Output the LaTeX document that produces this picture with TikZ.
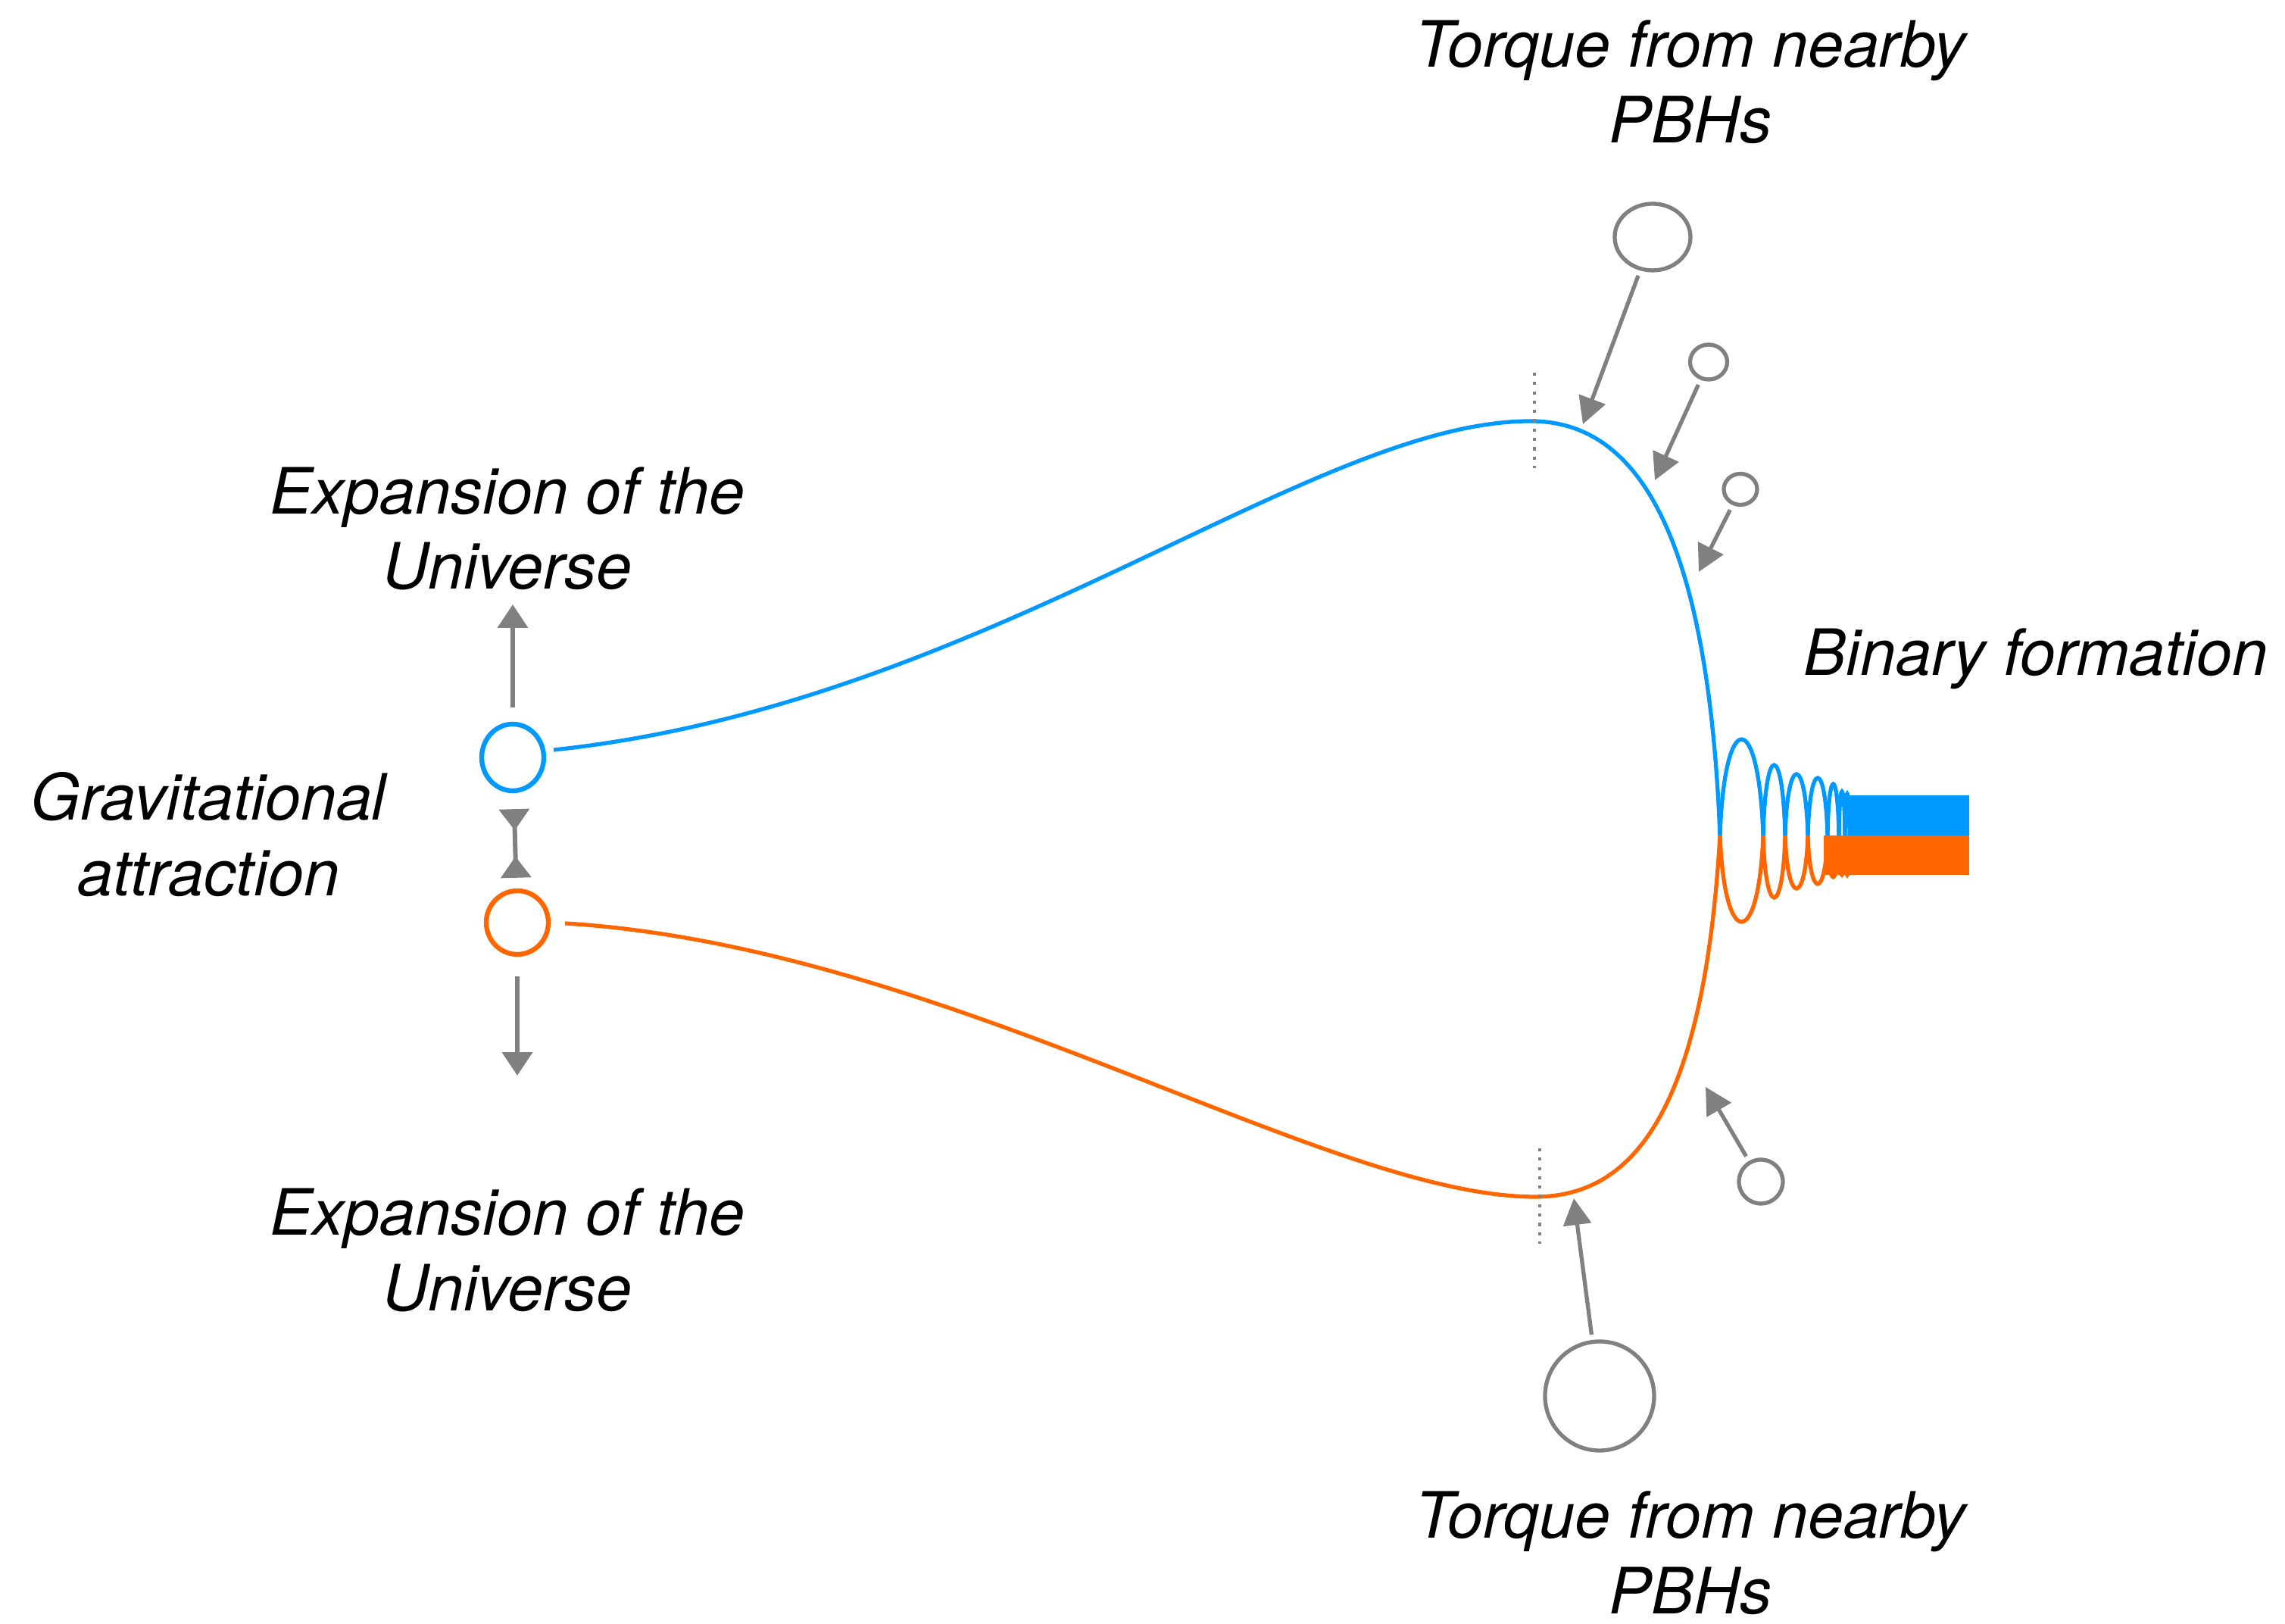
\documentclass[tikz,border=0pt]{standalone}
\usepackage{fontspec}
\setmainfont{TeX Gyre Heros}
\usetikzlibrary{arrows.meta, shapes.geometric}

\definecolor{pbhblue}{RGB}{0,153,255}
\definecolor{pbhorange}{RGB}{255,102,0}
\definecolor{pbhgray}{RGB}{128,128,128}

\begin{document}
\begin{tikzpicture}[x=0.5cm, y=-0.5cm,
    pbh/.style={draw=pbhgray, line width=0.75pt, ellipse, inner sep=0pt},
    pull/.style={pbhgray, line width=0.75pt, -{Triangle[length=5pt,width=5.2pt]}},
    pullwide/.style={pbhgray, line width=0.85pt, -{Triangle[length=4.4pt,width=5.6pt]}},
    orbit/.style={line width=0.75pt},
    lbl/.style={font=\fontsize{12}{14.2}\selectfont\itshape, align=center}]
\useasboundingbox (0,0) rectangle (30.17,21.44);

% labels
\node[lbl] (torqueTop) at (22.32,1.08) {Torque from nearby\\PBHs};
\node[lbl] (expTop) at (6.70,6.98) {Expansion of the\\Universe};
\node[lbl] (grav) at (2.75,11.02) {Gravitational\\attraction};
\node[lbl] (expBot) at (6.70,16.50) {Expansion of the\\Universe};
\node[lbl] (binary) at (26.88,8.70) {Binary formation};
\node[lbl] (torqueBot) at (22.32,20.50) {Torque from nearby\\PBHs};

% the pair
\node[pbh, draw=pbhblue, line width=0.9pt, minimum width=0.41cm, minimum height=0.44cm] (bhA) at (6.77,10.00) {};
\node[pbh, draw=pbhorange, line width=0.9pt, minimum width=0.41cm, minimum height=0.42cm] (bhB) at (6.83,12.18) {};
\coordinate (upA) at (6.77,7.98);
\coordinate (downB) at (6.83,14.20);
\draw[pullwide, shorten <=2.7pt] (bhA) -- (upA);
\draw[pullwide, shorten <=3.7pt] (bhB) -- (downB);
\draw[pbhgray, line width=0.85pt, {Triangle[reversed,length=4pt,width=5.6pt]}-{Triangle[reversed,length=4pt,width=5.6pt]}, shorten <=3pt, shorten >=2pt] (bhA) -- (bhB);

% trajectories
\draw[pbhblue, orbit] (7.31,9.90) .. controls (13.0,9.30) and (17.3,5.56) .. (20.21,5.56)
    .. controls (21.6,5.56) and (22.55,7.0) .. (22.71,11.03);
\draw[pbhorange, orbit] (7.46,12.19) .. controls (12.5,12.50) and (17.5,15.80) .. (20.27,15.80)
    .. controls (21.6,15.80) and (22.5,14.6) .. (22.71,11.03);

% inspiral
\foreach \a/\b/\hb/\ho in {22.71/23.28/1.27/1.14, 23.28/23.57/0.93/0.82, 23.57/23.87/0.81/0.70, 23.87/24.13/0.76/0.64, 24.13/24.28/0.68/0.55, 24.28/24.36/0.58/0.52, 24.36/24.42/0.55/0.52}
{
  \pgfmathsetmacro\ia{\a+0.1*(\b-\a)}
  \pgfmathsetmacro\ib{\b-0.1*(\b-\a)}
  \draw[pbhblue, orbit] (\a,11.03) .. controls (\ia,{11.03-1.333*\hb}) and (\ib,{11.03-1.333*\hb}) .. (\b,11.03);
  \draw[pbhorange, orbit] (\a,11.03) .. controls (\ia,{11.03+1.333*\ho}) and (\ib,{11.03+1.333*\ho}) .. (\b,11.03);
}
\fill[pbhblue] (24.40,10.50) rectangle (26.00,11.03);
\fill[pbhorange] (24.08,11.03) rectangle (26.00,11.55);

% turning points
\draw[pbhgray, line width=0.7pt, dash pattern=on 0.6pt off 1.15pt] (20.26,4.92) -- (20.26,6.18);
\draw[pbhgray, line width=0.7pt, dash pattern=on 0.6pt off 1.15pt] (20.33,15.16) -- (20.33,16.42);

% nearby PBHs
\node[pbh, minimum width=0.50cm, minimum height=0.44cm] (pbhT1) at (21.82,3.13) {};
\node[pbh, minimum width=0.245cm, minimum height=0.23cm] (pbhT2) at (22.56,4.78) {};
\node[pbh, minimum width=0.22cm, minimum height=0.205cm] (pbhT3) at (22.98,6.46) {};
\node[pbh, minimum size=0.72cm] (pbhB1) at (21.12,18.43) {};
\node[pbh, minimum size=0.29cm] (pbhB2) at (23.25,15.60) {};
\coordinate (hitT1) at (20.90,5.60);
\coordinate (hitT2) at (21.85,6.34);
\coordinate (hitT3) at (22.43,7.55);
\coordinate (hitB1) at (20.78,15.82);
\coordinate (hitB2) at (22.52,14.35);
\draw[pull, shorten <=1pt] (pbhT1) -- (hitT1);
\draw[pull, shorten <=1pt] (pbhT2) -- (hitT2);
\draw[pull, shorten <=1pt] (pbhT3) -- (hitT3);
\draw[pull, shorten <=1pt] (pbhB1) -- (hitB1);
\draw[pull, shorten <=1pt] (pbhB2) -- (hitB2);
\end{tikzpicture}
\end{document}
